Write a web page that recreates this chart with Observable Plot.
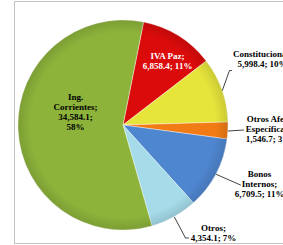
<!DOCTYPE html>
<html><head><meta charset="utf-8">
<script src="https://cdn.jsdelivr.net/npm/d3@7"></script>
<script src="https://cdn.jsdelivr.net/npm/@observablehq/plot@0.6"></script>
<style>
html,body{margin:0;padding:0;background:#fff;}
#chart{position:relative;width:283px;height:245px;overflow:hidden;}
#chart svg{position:absolute;left:0;top:0;}
#frame{position:absolute;left:14px;top:1px;width:300px;height:243px;border:1.5px solid #c4c4c4;box-sizing:border-box;pointer-events:none;}
</style></head><body>
<div id="chart"><div id="frame"></div></div>
<script>
// ---- data ----
const categories = ["IVA Paz", "Constitucional", "Otros Afec. Específicas", "Bonos Internos", "Otros", "Ing. Corrientes"];
const values = [6858.4, 5998.4, 1546.7, 6709.5, 4354.1, 34584.1];
const nameLines = [["IVA Paz;"], ["Constitucional;"], ["Otros Afec.", "Específicas;"], ["Bonos", "Internos;"], ["Otros;"], ["Ing.", "Corrientes;"]];
const colors = ["#dc0b0b", "#e6e53c", "#f17b14", "#4f86d0", "#a6dcea", "#8db33b"];

// ---- layout (pixels) ----
const W = 283, H = 245;
const cx = 123, cy = 125, R = 105;
const startDeg = 11.3;
const labelX = [167, 262, 268, 259, 213, 75];
const labelY = [60, 58.5, 128, 183, 232, 111];
const labelFill = ["#ffffff", "#000", "#000", "#000", "#000", "#000"];
const splitValue = [false, false, false, false, false, true];
const leaderBends = [null, [[229, 70], [231, 70]], [[243, 129.5]], [[240, 184.5]], [[185, 237.5], [188, 237.5]], null];

const total = d3.sum(values);
const fmt = d3.format(",.1f");
const data = categories.map((c, i) => ({category: c, value: values[i], i}));
const start = startDeg * Math.PI / 180;
const arcs = d3.pie().sort(null).value(d => d.value).startAngle(start).endAngle(start + 2 * Math.PI)(data);
const color = Plot.scale({color: {type: "ordinal", domain: categories, range: colors}});

const labels = data.map((d, i) => {
  const pct = Math.round(d.value / total * 100) + "%";
  const valLines = splitValue[i] ? [fmt(d.value) + ";", pct] : [fmt(d.value) + "; " + pct];
  return {category: d.category, text: nameLines[i].concat(valLines).join("\n"), x: labelX[i], y: labelY[i], fill: labelFill[i]};
});

const leaders = [];
arcs.forEach((a, i) => {
  if (!leaderBends[i]) return;
  const mid = (a.startAngle + a.endAngle) / 2;
  leaders.push({category: a.data.category, x: cx + R * Math.sin(mid), y: cy - R * Math.cos(mid)});
  leaderBends[i].forEach(p => leaders.push({category: a.data.category, x: p[0], y: p[1]}));
});

function pieMark(...args) {
  const scales = args.find(a => a && typeof a.x === "function" && typeof a.y === "function");
  const X = scales.x(cx), Y = scales.y(cy), r = scales.x(cx + R) - scales.x(cx);
  const g = d3.create("svg:g").attr("transform", `translate(${X},${Y})`);
  const defs = g.append("defs");
  const grad = defs.append("radialGradient").attr("id", "rim").attr("cx", "50%").attr("cy", "50%").attr("r", "50%");
  grad.append("stop").attr("offset", "88%").attr("stop-color", "#000").attr("stop-opacity", 0);
  grad.append("stop").attr("offset", "100%").attr("stop-color", "#000").attr("stop-opacity", 0.12);
  const arc = d3.arc().innerRadius(0).outerRadius(r);
  g.selectAll("path.s").data(arcs).join("path")
    .attr("d", arc)
    .attr("fill", d => color.apply(d.data.category))
    .attr("stroke", "rgba(255,255,255,0.55)")
    .attr("stroke-width", 0.7);
  g.append("circle").attr("r", r).attr("fill", "url(#rim)");
  return g.node();
}

const plot = Plot.plot({
  width: W, height: H,
  margin: 0,
  x: {domain: [0, W], range: [0, W], axis: null},
  y: {domain: [0, H], range: [0, H], axis: null},
  style: {background: "transparent", overflow: "visible"},
  marks: [
    pieMark,
    Plot.line(leaders, {x: "x", y: "y", z: "category", stroke: "#111", strokeWidth: 0.8}),
    Plot.text(labels.filter(d => d.fill !== "#000"), {x: "x", y: "y", text: "text", fill: "#ffffff", fontFamily: "Liberation Serif", fontWeight: "bold", fontSize: 9, lineHeight: 1.12, textAnchor: "middle"}),
    Plot.text(labels.filter(d => d.fill === "#000"), {x: "x", y: "y", text: "text", fill: "#000", fontFamily: "Liberation Serif", fontWeight: "bold", fontSize: 9, lineHeight: 1.12, textAnchor: "middle"})
  ]
});
document.getElementById("chart").insertBefore(plot, document.getElementById("frame"));
</script>
</body></html>
